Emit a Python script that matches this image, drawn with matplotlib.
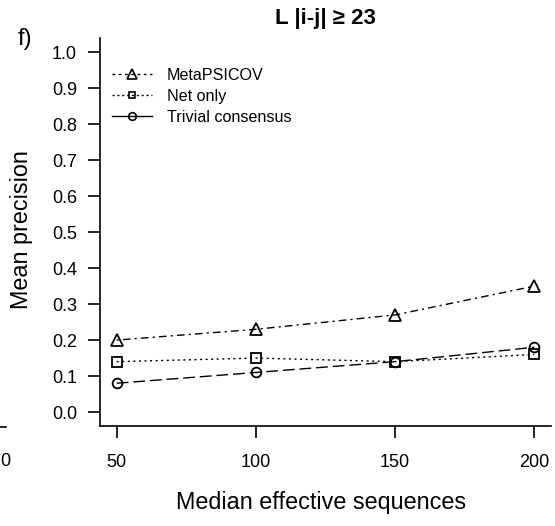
import matplotlib
matplotlib.use("Agg")
import matplotlib.pyplot as plt
from matplotlib.lines import Line2D

# ======================
# DATA
# ======================
med_seqs = [50, 100, 150, 200]
metapsicov = [0.20, 0.23, 0.27, 0.35]
net_only = [0.14, 0.15, 0.14, 0.16]
trivial = [0.08, 0.11, 0.14, 0.18]

x_ticks = [50, 100, 150, 200]
y_ticks = [0.0, 0.1, 0.2, 0.3, 0.4, 0.5, 0.6, 0.7, 0.8, 0.9, 1.0]

plt.rcParams["font.family"] = ["Liberation Sans", "DejaVu Sans"]

W, H = 555, 526
fig = plt.figure(figsize=(W / 100, H / 100), dpi=100)
ax = fig.add_axes([100 / W, 1 - 426.4 / H, 451 / W, 388.4 / H])

lw = 1.0
ax.plot(med_seqs, metapsicov, color="black", lw=lw, ls=(0, (1.5, 3, 5.5, 3)),
        marker="^", ms=8.5, mfc="none", mec="black", mew=1.3, clip_on=False)
ax.plot(med_seqs, net_only, color="black", lw=lw, ls=(0, (1.5, 2.5)),
        marker="s", ms=6.5, mfc="none", mec="black", mew=1.3, clip_on=False)
ax.plot(med_seqs, trivial, color="black", lw=lw, ls=(0, (8.5, 3.5)),
        marker="o", ms=7, mfc="none", mec="black", mew=1.3, clip_on=False)

ax.set_xlim(44, 206)
ax.set_ylim(-0.04, 1.04)
ax.set_xticks(x_ticks)
ax.set_xticklabels([str(v) for v in x_ticks])
ax.set_yticks(y_ticks)
ax.set_yticklabels([f"{v:.1f}" for v in y_ticks])

for s in ["top", "right"]:
    ax.spines[s].set_visible(False)
for s in ["left", "bottom"]:
    ax.spines[s].set_linewidth(1.2)
ax.tick_params(axis="y", length=8.6, width=1.2, pad=8, labelsize=13)
ax.tick_params(axis="x", length=8.6, width=1.2, pad=11, labelsize=13)

ax.set_title("L |i-j| \u2265 23", fontsize=16, fontweight="bold", pad=10)
fig.text(22 / W, 1 - 230 / H, "Mean precision", rotation=90,
         ha="center", va="center", fontsize=16.8)
fig.text(321 / W, 1 - 503 / H, "Median effective sequences",
         ha="center", va="center", fontsize=16.8)
fig.text(25 / W, 1 - 39 / H, "f)", ha="center", va="center", fontsize=17)

# fragment of neighbouring panel on the left edge
fig.add_artist(Line2D([0, 6 / W], [1 - 427 / H, 1 - 427 / H], color="black", lw=1.2))
fig.text(0, 1 - 461 / H, "0", ha="left", va="center", fontsize=13)

handles = [
    Line2D([], [], color="black", lw=lw, ls=(0, (2, 2.5)), marker="^", ms=7,
           mfc="none", mec="black", mew=1.2),
    Line2D([], [], color="black", lw=lw, ls=(0, (1.5, 2)), marker="s", ms=5,
           mfc="none", mec="black", mew=1.2),
    Line2D([], [], color="black", lw=lw, ls="-", marker="o", ms=5.5,
           mfc="none", mec="black", mew=1.2),
]
ax.legend(handles, ["MetaPSICOV", "Net only", "Trivial consensus"],
          loc="upper left", bbox_to_anchor=(112 / W, 1 - 68 / H),
          bbox_transform=fig.transFigure, frameon=False, fontsize=11.6,
          handlelength=2.5, handletextpad=0.9, labelspacing=0.36,
          borderpad=0, borderaxespad=0)

fig.savefig("out.png", dpi=100)
